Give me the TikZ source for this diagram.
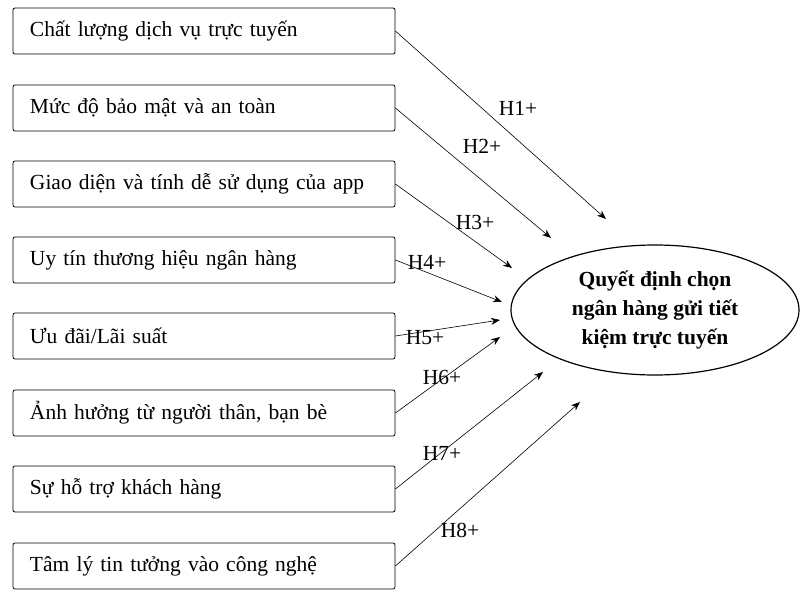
\documentclass[tikz,border=0pt]{standalone}
\usepackage{fontspec}
\setmainfont{Liberation Serif}
\usetikzlibrary{shapes.geometric,arrows.meta}
\tikzset{
  factor/.style={draw, rounded corners=2pt, minimum width=382pt, minimum height=46pt,
                 text width=348pt, align=left, font=\fontsize{21.5}{24}\selectfont, line width=0.8pt},
  decision/.style={draw, ellipse, minimum width=288pt, minimum height=130pt, line width=1.2pt,
                   inner sep=0pt, align=center, font=\bfseries\fontsize{21.5}{29}\selectfont},
  hyp/.style={-{Stealth[length=9pt,width=7pt]}, line width=0.6pt},
  hlabel/.style={font=\fontsize{21.5}{24}\selectfont}
}
\begin{document}
\begin{tikzpicture}[x=1pt,y=-1pt]
\useasboundingbox (0,0) rectangle (807,599);
% factors
\node[factor] (f1) at (204,31) {Chất lượng dịch vụ trực tuyến};
\node[factor] (f2) at (204,108) {Mức độ bảo mật và an toàn};
\node[factor] (f3) at (204,184) {Giao diện và tính dễ sử dụng của app};
\node[factor] (f4) at (204,260) {Uy tín thương hiệu ngân hàng};
\node[factor] (f5) at (204,336) {Ưu đãi/Lãi suất};
\node[factor] (f6) at (204,413) {Ảnh hưởng từ người thân, bạn bè};
\node[factor] (f7) at (204,489) {Sự hỗ trợ khách hàng};
\node[factor] (f8) at (204,566) {Tâm lý tin tưởng vào công nghệ};
% outcome
\node[decision] (dec) at (655,310) {Quyết định chọn\\ngân hàng gửi tiết\\kiệm trực tuyến};
% arrow ends
\coordinate (e1) at (606,219);
\coordinate (e2) at (551,238);
\coordinate (e3) at (512,268);
\coordinate (e4) at (502,302);
\coordinate (e5) at (500,320);
\coordinate (e6) at (500,337);
\coordinate (e7) at (543,372);
\coordinate (e8) at (580,402);
\draw[hyp] (f1.east) -- (e1);
\draw[hyp] (f2.east) -- (e2);
\draw[hyp] (f3.east) -- (e3);
\draw[hyp] (f4.east) -- (e4);
\draw[hyp] (f5.east) -- (e5);
\draw[hyp] (f6.east) -- (e6);
\draw[hyp] (f7.east) -- (e7);
\draw[hyp] (f8.east) -- (e8);
% labels
\node[hlabel] (h1) at (518,108) {H1+};
\node[hlabel] (h2) at (482,146) {H2+};
\node[hlabel] (h3) at (475,222) {H3+};
\node[hlabel] (h4) at (427,262) {H4+};
\node[hlabel] (h5) at (425,338) {H5+};
\node[hlabel] (h6) at (442,377) {H6+};
\node[hlabel] (h7) at (442,453) {H7+};
\node[hlabel] (h8) at (460,530) {H8+};
\end{tikzpicture}
\end{document}
